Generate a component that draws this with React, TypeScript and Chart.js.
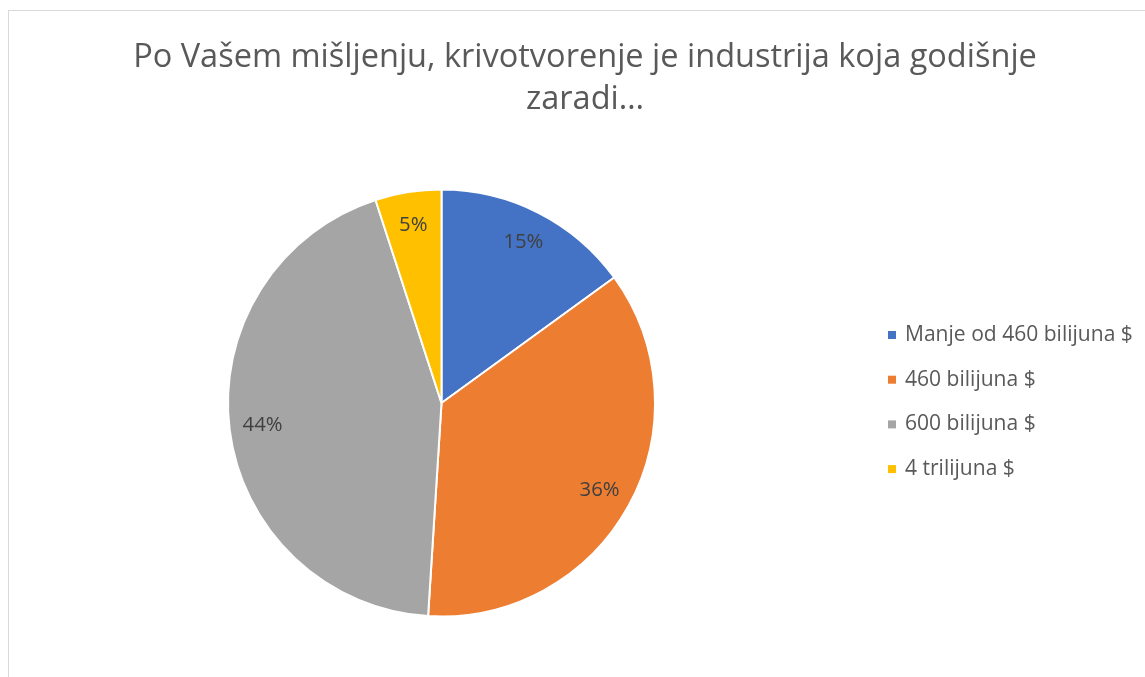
import React, { useEffect, useRef } from "react";
import { Chart, registerables } from "chart.js";

Chart.register(...registerables);

const TITLE_LINES = ["Po Vašem mišljenju, krivotvorenje je industrija koja godišnje", "zaradi…"];
const CATEGORIES = ["Manje od 460 bilijuna $", "460 bilijuna $", "600 bilijuna $", "4 trilijuna $"];
const VALUES = [15, 36, 44, 5];
const COLORS = ["#4472C4", "#ED7D31", "#A5A5A5", "#FFC000"];

const FONT = "'Open Sans', sans-serif";

function fitSize(ctx: CanvasRenderingContext2D, text: string, target: number) {
  ctx.font = `100px ${FONT}`;
  const w = ctx.measureText(text).width;
  return (100 * target) / w;
}

const overlayPlugin = {
  id: "overlay",
  afterDatasetsDraw(chart: any) {
    const ctx = chart.ctx as CanvasRenderingContext2D;
    const meta = chart.getDatasetMeta(0);
    const data = chart.data.datasets[0].data as number[];
    const total = data.reduce((a, b) => a + b, 0);
    ctx.save();
    const labelSize = fitSize(ctx, "15%", 40);
    const titleSize = fitSize(ctx, TITLE_LINES[0], 904);
    const legendSize = fitSize(ctx, CATEGORIES[0], 228);
    // data labels
    ctx.font = `${labelSize}px ${FONT}`;
    ctx.fillStyle = "#404040";
    ctx.textAlign = "center";
    ctx.textBaseline = "middle";
    meta.data.forEach((arc: any, i: number) => {
      const { x, y, startAngle, endAngle, outerRadius } = arc.getProps(
        ["x", "y", "startAngle", "endAngle", "outerRadius"],
        true
      );
      const mid = (startAngle + endAngle) / 2;
      const r = outerRadius * 0.845;
      const pct = Math.round((data[i] / total) * 100) + "%";
      ctx.fillText(pct, x + Math.cos(mid) * r, y + Math.sin(mid) * r);
    });
    // title
    ctx.font = `${titleSize}px ${FONT}`;
    ctx.fillStyle = "#595959";
    TITLE_LINES.forEach((line, i) => {
      ctx.fillText(line, 576, 47 + i * 42);
    });
    // legend
    ctx.font = `${legendSize}px ${FONT}`;
    ctx.textAlign = "left";
    (chart.data.labels as string[]).forEach((lab, i) => {
      const cy = 324 + i * 44.7;
      ctx.fillStyle = COLORS[i];
      ctx.fillRect(879, cy - 4, 8, 8);
      ctx.fillStyle = "#595959";
      ctx.fillText(lab, 896, cy);
    });
    ctx.restore();
  },
};

export default function App() {
  const ref = useRef<HTMLCanvasElement | null>(null);
  useEffect(() => {
    document.body.style.margin = "0";
    document.body.style.overflow = "hidden";
    const chart = new Chart(ref.current!, {
      type: "pie",
      data: {
        labels: CATEGORIES,
        datasets: [
          {
            data: VALUES,
            backgroundColor: COLORS,
            borderColor: "#ffffff",
            borderWidth: 2,
            hoverOffset: 0,
          },
        ],
      },
      options: {
        animation: false,
        responsive: false,
        events: [],
        layout: { padding: { left: 218, top: 176, right: 489, bottom: 58 } },
        plugins: {
          legend: { display: false },
          title: { display: false },
          tooltip: { enabled: false },
        },
      },
      plugins: [overlayPlugin],
    });
    return () => chart.destroy();
  }, []);
  return (
    <div
      style={{
        position: "absolute",
        left: 8,
        top: 10,
        width: 1137,
        height: 667,
        borderTop: "1px solid #d9d9d9",
        borderLeft: "1px solid #d9d9d9",
        boxSizing: "border-box",
        background: "#fff",
      }}
    >
      <canvas ref={ref} width={1136} height={666} style={{ display: "block" }} />
    </div>
  );
}
